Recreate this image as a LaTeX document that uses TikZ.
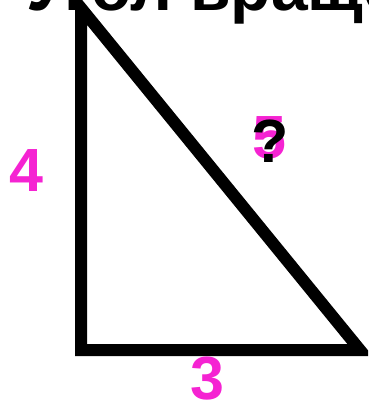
\documentclass[tikz,border=0pt]{standalone}
\usepackage{fontspec}
\setmainfont{Liberation Sans}
\usepackage{xcolor}
\definecolor{labelpink}{RGB}{245,35,210}

\begin{document}
\begin{tikzpicture}[
    x=1pt, y=-1pt,
    side/.style={draw=black, line width=12pt},
    title/.style={font=\fontsize{66}{66}\selectfont\bfseries, text=black, inner sep=0pt},
    length/.style={font=\fontsize{61}{61}\selectfont\bfseries, text=labelpink, inner sep=0pt},
    query/.style={font=\fontsize{61}{61}\selectfont\bfseries, text=black, inner sep=0pt}
]
    \clip (0,0) rectangle (368,406);

    % ================= TITLE =================
    \node[title, anchor=base west] (TITLE) at (26,11) {Угол вращения};

    % ================= TRIANGLE =================
    \coordinate (TOP)   at (81,8);
    \coordinate (RIGHT) at (81,350);
    \coordinate (END)   at (360,350);
    \draw[side] (TOP) -- (RIGHT) -- (END) -- cycle;

    % ================= SIDE LENGTHS =================
    \node[length] (leg_a) at (26,171) {4};
    \node[length] (leg_b) at (207,379) {3};
    \node[length] (hyp)   at (269,138) {5};
    \node[query]  (ask)   at (270,141) {?};

\end{tikzpicture}
\end{document}
